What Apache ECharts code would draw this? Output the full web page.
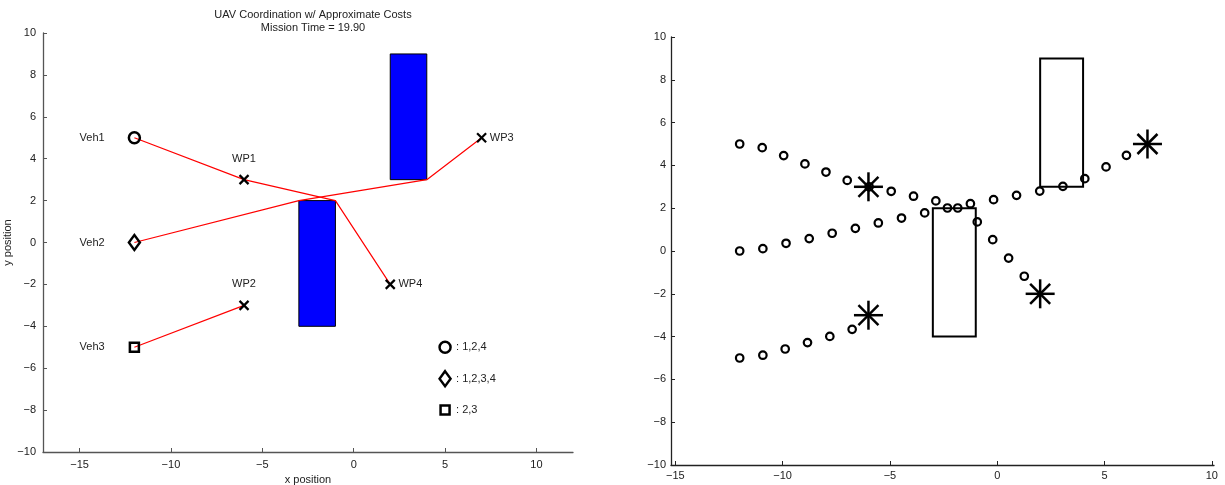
<!DOCTYPE html>
<html>
<head>
<meta charset="utf-8">
<script src="https://cdn.jsdelivr.net/npm/echarts@6/dist/echarts.min.js"></script>
<style>
html,body{margin:0;padding:0;background:#fff;}
#chart{width:1225px;height:485px;}
</style>
</head>
<body>
<div id="chart"></div>
<script>
// ---- data ----
const xTicks = [-15, -10, -5, 0, 5, 10];
const vehNames = ['Veh1', 'Veh2', 'Veh3'];
const vehX = [-12, -12, -12];
const vehY = [5, 0, -5];
const vehSymbols = ['circle', 'diamond', 'rect'];
const vehLabelX = [-15, -15, -15];
const wpNames = ['WP1', 'WP2', 'WP3', 'WP4'];
const wpX = [-6, -6, 7, 2];
const wpY = [3, -3, 5, -2];
const wpLabelX = [-6, -6, 7.45, 2.45];
const wpLabelY = [4, -2, 5, -2];
const obsX0 = [-3, 2];
const obsX1 = [-1, 4];
const obsY0 = [-4, 3];
const obsY1 = [2, 9];
const route1 = [[-12, 5], [-6, 3], [-1, 2], [2, -2]];
const route2 = [[-12, 0], [-3, 2], [4, 3], [7, 5]];
const route3 = [[-12, -5], [-6, -3]];
const legendText = [': 1,2,4', ': 1,2,3,4', ': 2,3'];
const legendX = [5, 5, 5];
const legendY = [-5, -6.5, -8];
const legendTextX = [5.6, 5.6, 5.6];
// simulated positions (right panel)
const trail1 = [[-12, 5], [-10.95, 4.83], [-9.95, 4.46], [-8.96, 4.07], [-7.98, 3.69], [-6.99, 3.30], [-5.97, 3.0],
  [-4.94, 2.79], [-3.90, 2.56], [-2.86, 2.34], [-1.84, 2.01], [-0.93, 1.36], [-0.21, 0.53], [0.53, -0.33], [1.26, -1.18]];
const trail2 = [[-12, 0], [-10.92, 0.11], [-9.84, 0.36], [-8.76, 0.58], [-7.69, 0.83], [-6.61, 1.06], [-5.54, 1.31],
  [-4.46, 1.54], [-3.38, 1.78], [-2.32, 2.01], [-1.25, 2.21], [-0.17, 2.40], [0.90, 2.60], [1.98, 2.80], [3.06, 3.02],
  [4.08, 3.38], [5.07, 3.93], [6.02, 4.47]];
const trail3 = [[-12, -5], [-10.92, -4.87], [-9.88, -4.58], [-8.84, -4.28], [-7.80, -3.99], [-6.76, -3.66]];
const titleLines = ['UAV Coordination w/ Approximate Costs', 'Mission Time = 19.90'];

// ---- chart ----
const FONT = '"Liberation Sans", Arial, Helvetica, sans-serif';
const chart = echarts.init(document.getElementById('chart'), null, {renderer: 'canvas'});
const fmt = v => (v < 0 ? '\u2212' + Math.abs(v) : String(v));

function axisX(idx, min, max, color, labelMargin) {
  return {
    type: 'value', gridIndex: idx, min: min, max: max,
    axisLine: {onZero: false, lineStyle: {color: color, width: 1.3}},
    axisTick: {inside: true, length: 4, lineStyle: {color: color}, customValues: xTicks},
    axisLabel: {customValues: xTicks, formatter: fmt, color: '#222', fontSize: 11, fontFamily: FONT, margin: labelMargin},
    splitLine: {show: false}
  };
}
function axisY(idx, color, labelMargin) {
  return {
    type: 'value', gridIndex: idx, min: -10, max: 10, interval: 2,
    axisLine: {onZero: false, lineStyle: {color: color, width: 1.3}},
    axisTick: {inside: true, length: 4, lineStyle: {color: color}},
    axisLabel: {formatter: fmt, color: '#222', fontSize: 11, fontFamily: FONT, margin: labelMargin},
    splitLine: {show: false}
  };
}

const rects = obsX0.map((x0, i) => [x0, obsY0[i], obsX1[i], obsY1[i]]);
function rectSeries(gi, fill, stroke, lw) {
  return {
    type: 'custom', xAxisIndex: gi, yAxisIndex: gi, data: rects, silent: true, z: 2,
    renderItem: (params, api) => {
      const p0 = api.coord([api.value(0), api.value(3)]);
      const p1 = api.coord([api.value(2), api.value(1)]);
      return {type: 'rect', shape: {x: p0[0], y: p0[1], width: p1[0] - p0[0], height: p1[1] - p0[1]},
        style: {fill: fill, stroke: stroke, lineWidth: lw}};
    }
  };
}
function textSeries(gi, xs, ys, texts, align) {
  return {
    type: 'custom', xAxisIndex: gi, yAxisIndex: gi, silent: true, z: 5,
    data: xs.map((x, i) => [x, ys[i]]),
    renderItem: (params, api) => {
      const p = api.coord([api.value(0), api.value(1)]);
      return {type: 'text', x: p[0], y: p[1],
        style: {text: texts[params.dataIndex], font: '11px ' + FONT, fill: '#222', align: align, verticalAlign: 'middle'}};
    }
  };
}
function crossSeries(gi, xs, ys, half, lw) {
  return {
    type: 'custom', xAxisIndex: gi, yAxisIndex: gi, silent: true, z: 6,
    data: xs.map((x, i) => [x, ys[i]]),
    renderItem: (params, api) => {
      const p = api.coord([api.value(0), api.value(1)]);
      const st = {stroke: '#000', lineWidth: lw};
      return {type: 'group', children: [
        {type: 'line', shape: {x1: p[0] - half, y1: p[1] - half, x2: p[0] + half, y2: p[1] + half}, style: st},
        {type: 'line', shape: {x1: p[0] - half, y1: p[1] + half, x2: p[0] + half, y2: p[1] - half}, style: st}
      ]};
    }
  };
}
function starSeries(gi, xs, ys) {
  return {
    type: 'custom', xAxisIndex: gi, yAxisIndex: gi, silent: true, z: 6,
    data: xs.map((x, i) => [x, ys[i]]),
    renderItem: (params, api) => {
      const p = api.coord([api.value(0), api.value(1)]);
      const st = {stroke: '#000', lineWidth: 2.5};
      const a = 14.5, d = 10;
      return {type: 'group', children: [
        {type: 'line', shape: {x1: p[0] - a, y1: p[1], x2: p[0] + a, y2: p[1]}, style: st},
        {type: 'line', shape: {x1: p[0], y1: p[1] - a, x2: p[0], y2: p[1] + a}, style: st},
        {type: 'line', shape: {x1: p[0] - d, y1: p[1] - d, x2: p[0] + d, y2: p[1] + d}, style: st},
        {type: 'line', shape: {x1: p[0] - d, y1: p[1] + d, x2: p[0] + d, y2: p[1] - d}, style: st}
      ]};
    }
  };
}
function routeSeries(data) {
  return {type: 'line', xAxisIndex: 0, yAxisIndex: 0, data: data, symbol: 'none', silent: true, z: 3,
    lineStyle: {color: '#ff0000', width: 1.2}, animation: false};
}
function trailSeries(data) {
  return {type: 'scatter', xAxisIndex: 1, yAxisIndex: 1, data: data, symbol: 'circle', symbolSize: 7.5, silent: true, z: 4,
    itemStyle: {color: 'rgba(0,0,0,0)', borderColor: '#000', borderWidth: 2.2, opacity: 1}};
}
const vehSizes = {circle: 11, diamond: [11, 15], rect: 9};
const vehMarkers = vehX.map((x, i) => ({
  type: 'scatter', xAxisIndex: 0, yAxisIndex: 0, silent: true, z: 6,
  data: [[x, vehY[i]]], symbol: vehSymbols[i], symbolSize: vehSizes[vehSymbols[i]],
  itemStyle: {color: 'rgba(0,0,0,0)', borderColor: '#000', borderWidth: 2.5, opacity: 1}
}));
const legendMarkers = legendX.map((x, i) => ({
  type: 'scatter', xAxisIndex: 0, yAxisIndex: 0, silent: true, z: 6,
  data: [[x, legendY[i]]], symbol: vehSymbols[i], symbolSize: vehSizes[vehSymbols[i]],
  itemStyle: {color: 'rgba(0,0,0,0)', borderColor: '#000', borderWidth: 2.5, opacity: 1}
}));

const option = {
  animation: false,
  backgroundColor: '#fff',
  title: {
    text: titleLines.join('\n'), left: 308, top: 3, textAlign: 'center',
    textStyle: {fontSize: 11, fontWeight: 'normal', color: '#222', fontFamily: FONT, lineHeight: 13}
  },
  grid: [
    {left: 43, top: 33, width: 530, height: 419, outerBoundsMode: 'none', containLabel: false},
    {left: 671, top: 37, width: 543, height: 428, outerBoundsMode: 'none', containLabel: false}
  ],
  xAxis: [
    Object.assign(axisX(0, -17, 12, '#555', 7), {name: 'x position', nameLocation: 'middle', nameGap: 18,
      nameTextStyle: {fontSize: 11, color: '#222', fontFamily: FONT}}),
    axisX(1, -15.2, 10.1, '#222', 5)
  ],
  yAxis: [
    Object.assign(axisY(0, '#555', 7), {name: 'y position', nameLocation: 'middle', nameGap: 23,
      nameTextStyle: {fontSize: 11, color: '#222', fontFamily: FONT}}),
    axisY(1, '#222', 5)
  ],
  series: [
    rectSeries(0, '#0000ff', '#000', 1),
    routeSeries(route1), routeSeries(route2), routeSeries(route3),
    ...vehMarkers,
    crossSeries(0, wpX, wpY, 4.5, 2.2),
    textSeries(0, vehLabelX, vehY, vehNames, 'left'),
    textSeries(0, wpLabelX.slice(0, 2), wpLabelY.slice(0, 2), wpNames.slice(0, 2), 'center'),
    textSeries(0, wpLabelX.slice(2), wpLabelY.slice(2), wpNames.slice(2), 'left'),
    ...legendMarkers,
    textSeries(0, legendTextX, legendY, legendText, 'left'),
    rectSeries(1, 'rgba(0,0,0,0)', '#000', 2),
    trailSeries(trail1), trailSeries(trail2), trailSeries(trail3),
    starSeries(1, wpX, wpY)
  ]
};
chart.setOption(option);
</script>
</body>
</html>
